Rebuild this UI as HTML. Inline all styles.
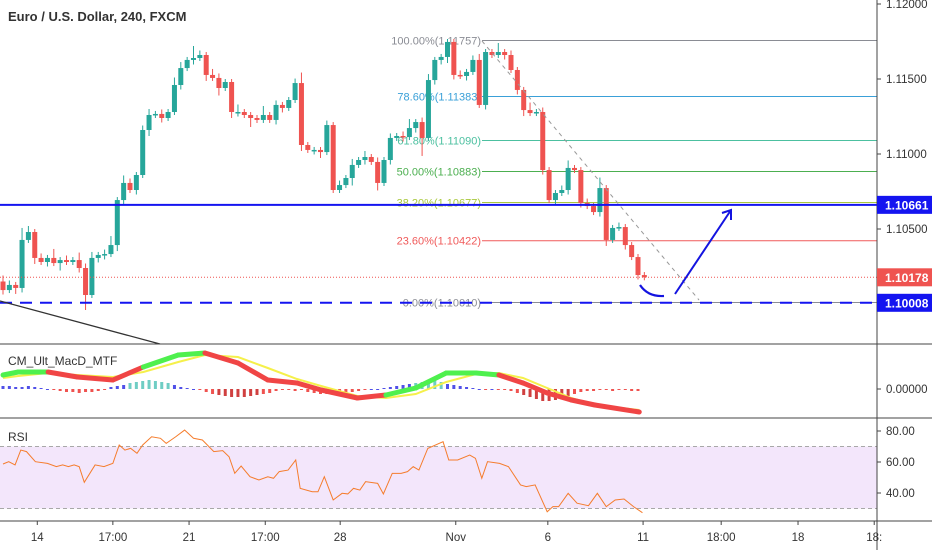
<!DOCTYPE html>
<html><head><meta charset="utf-8">
<style>
html,body{margin:0;padding:0;background:#fff;}
svg{display:block;font-family:"Liberation Sans",sans-serif;}
</style></head>
<body>
<svg id="chart" width="932" height="550" viewBox="0 0 932 550" xmlns="http://www.w3.org/2000/svg">
  <rect x="0" y="0" width="932" height="550" fill="#ffffff"/>
  <g id="rsiBand"></g>
  <g id="fib"></g>
  <g id="candles"></g>
  <g id="macd"></g>
  <g id="rsi"></g>
  <g id="overlay"></g>
  <g id="axes"></g>
  <text x="8" y="21" font-size="13" fill="#333" font-weight="600">Euro / U.S. Dollar, 240, FXCM</text>
  <text x="8" y="365" font-size="12" fill="#333">CM_Ult_MacD_MTF</text>
  <text x="8" y="441" font-size="12" fill="#333">RSI</text>
</svg>
<script>
const closes = [1.10093,1.10127,1.10107,1.10427,1.10480,1.10307,1.10280,1.10307,1.10273,1.10293,
1.10280,1.10293,1.10240,1.10060,1.10307,1.10327,1.10333,1.10393,1.10693,1.10807,
1.10760,1.10860,1.11160,1.11260,1.11267,1.11240,1.11280,1.11460,1.11573,1.11627,
1.11640,1.11660,1.11527,1.11507,1.11440,1.11480,1.11280,1.11280,1.11260,1.11240,
1.11227,1.11260,1.11227,1.11327,1.11307,1.11360,1.11473,1.11060,1.11027,1.11027,
1.11013,1.11193,1.10760,1.10793,1.10840,1.10927,1.10960,1.10980,1.10947,1.10807,
1.10960,1.11107,1.11120,1.11113,1.11173,1.11213,1.11107,1.11493,1.11627,1.11647,
1.11747,1.11527,1.11520,1.11547,1.11627,1.11327,1.11680,1.11660,1.11680,1.11660,
1.11560,1.11427,1.11293,1.11273,1.11280,1.10893,1.10693,1.10740,1.10760,1.10907,
1.10893,1.10673,1.10653,1.10613,1.10773,1.10427,1.10507,1.10513,1.10393,1.10313,
1.10193,1.10178];
const firstOpen = 1.10150;
const wickUp = [4,3,2,8,4,2,3,2,6,2,3,2,5,3,4,2,3,6,2,5,3,2,3,4,2,3,2,5,4,2,
8,3,2,4,3,2,2,5,2,2,2,6,2,3,2,2,3,7,2,2,2,3,2,3,2,4,2,4,2,3,
2,3,2,3,6,2,3,4,2,2,2,2,3,2,3,4,2,2,6,2,3,2,2,5,2,3,2,2,3,5,
2,2,3,2,7,2,2,3,2,2,2,2];
const wickDn = [3,2,4,3,2,4,2,3,2,5,2,2,3,10,2,3,3,2,4,3,2,3,2,4,2,3,2,2,3,2,
3,2,4,2,5,2,4,3,2,6,2,2,2,3,3,2,2,4,2,3,4,2,2,2,2,5,2,3,2,5,
2,3,2,3,2,3,12,2,3,3,4,3,2,3,2,2,3,2,2,3,2,3,4,2,2,3,2,3,2,3,
2,3,2,2,3,4,2,2,3,2,3,2];
const fibLevels = ["100.00%","78.60%","61.80%","50.00%","38.20%","23.60%","0.00%"];
const fibPrices = [1.11757,1.11383,1.11090,1.10883,1.10677,1.10422,1.10010];
const fibColors = ["#8a8c94","#3aa0d8","#4cc0a0","#4caf50","#a8c83c","#f05a5a","#8a8c94"];
const priceTicks = [1.12000,1.11500,1.11000,1.10500];
const macdIdx = [0,2.4,7.1,11.7,17.3,22.1,27.6,31.8,37,41.7,46.3,50.1,55.8,60.3,65,69.8,74.5,78.1,81.9,85.7,89.5,93.2,100.2];
const macdVals = [.0014,.0017,.0017,.0012,.0009,.0022,.0034,.0036,.0026,.0009,.0006,-.0001,-.0009,-.0006,.0001,.0016,.0016,.0014,.0006,-.0004,-.0011,-.0016,-.0023];
const signalVals = [.0011,.0013,.0016,.0014,.0012,.0017,.0027,.0034,.0032,.0021,.0010,.0003,-.0007,-.0009,-.0005,.0007,.0015,.0016,.0011,.0001,-.0009,-.0016,-.0021];
const histVals = [3,3,2,2,3,2,1,0,-1,-2,-3,-3,-4,-3,-3,-2,-1,2,3,4,6,7,8,9,8,7,6,4,2,1,0,-1,
-3,-5,-6,-7,-8,-8,-8,-7,-6,-5,-4,-2,-1,-1,-2,-1,-3,-4,-5,-5,-6,-5,-4,-3,-2,-1,0,0,1,2,
3,4,5,6,7,8,9,7,5,4,3,2,1,0,-1,0,-1,-1,-2,-4,-6,-8,-10,-12,-12,-11,-9,-7,-5,-3,-2,-2,
-1,-1,-2,-1,-1,-2,-2];
const rsiIdx = [0,0.9,1.9,2.8,3.7,5.1,7.0,8.4,9.4,10.3,11.2,12.0,12.8,14.5,15.9,17.3,18.3,19.2,20.1,21.1,22.0,23.4,24.8,25.7,27.2,28.6,30.0,31.4,33.2,34.6,35.6,36.5,37.5,38.9,40.3,41.7,42.6,43.5,44.9,46.1,46.8,48.7,49.6,50.6,52.0,53.4,54.3,55.2,56.2,57.1,59.0,59.9,61.3,62.7,63.7,64.6,65.5,66.9,69.3,70.2,71.6,73.5,74.4,75.4,76.3,78.2,79.6,81.5,82.4,83.8,85.7,86.6,87.5,89.0,90.4,92.2,93.6,95.0,96.4,97.8,99.3,100.7];
const rsiVals = [58.7,60.2,58.1,67.7,66.7,60.2,59.1,57.0,58.1,57.0,58.1,57.0,46.9,58.1,57.0,59.1,71.0,67.7,68.8,65.6,71.0,76.3,75.3,72.0,76.3,80.6,75.3,74.2,66.7,67.3,63.4,52.7,57.4,50.5,48.4,50.5,49.5,53.8,54.8,61.3,43.0,40.8,40.8,50.5,35.5,39.8,39.4,43.0,41.9,47.3,46.2,39.4,52.7,52.7,53.8,57.0,54.8,68.8,73.1,61.3,61.3,64.5,62.4,49.5,60.2,59.1,57.0,45.2,44.1,45.2,27.9,31.2,31.2,39.8,33.4,31.8,39.8,31.2,35.5,36.1,31.2,27.3];
const rsiTicks = [80,60,40];
const timeLabels = ["14","17:00","21","17:00","28","Nov","6","11","18:00","18","18:"];
const timeIdx = [5.4,17.3,29.3,41.3,53.1,71.3,85.8,100.8,113.1,125.2,137.2];
const markPrices = [1.10661,1.10178,1.10008];

const NS="http://www.w3.org/2000/svg";
const AX=877;
const xOf=i=>3+6.35*i;
const yP=p=>79-(p-1.115)*15000;
const yM=v=>389-v*10000;
const yR=v=>431-(v-80)*1.55;
function mk(tag,attrs,parent){const e=document.createElementNS(NS,tag);for(const k in attrs)e.setAttribute(k,attrs[k]);parent.appendChild(e);return e;}
const G=id=>document.getElementById(id);

const band=mk('rect',{x:0,y:yR(70),width:AX,height:yR(30)-yR(70),fill:'#f3e6fb'},G('rsiBand'));


[70,30].forEach(v=>{const l=mk('line',{x1:0,x2:AX,y1:yR(v),y2:yR(v),stroke:'#a8a8a8','stroke-dasharray':'4,3'},G('rsiBand'));

});

fibPrices.forEach((p,k)=>{const y=yP(p);
 const l=mk('line',{x1:482,x2:AX,y1:y,y2:y,stroke:fibColors[k],'stroke-width':1},G('fib'));
 
 
 const t=mk('text',{x:481,y:y+4,'text-anchor':'end','font-size':11,fill:fibColors[k]},G('fib'));
 t.textContent=fibLevels[k]+'('+p.toFixed(5)+')';
 
 
});

let prev=firstOpen;
closes.forEach((c,i)=>{const o=prev;prev=c;const up=c>=o;const col=up?'#26a69a':'#ef5350';
 const hi=Math.max(o,c)+wickUp[i]*0.0001, lo=Math.min(o,c)-wickDn[i]*0.0001;const x=xOf(i);
 const g=mk('g',{},G('candles'));
 
 
 mk('line',{x1:x,x2:x,y1:yP(hi),y2:yP(lo),stroke:col,'stroke-width':1},g);
 const top=yP(Math.max(o,c)),bot=yP(Math.min(o,c));
 mk('rect',{x:x-2.5,y:top,width:5,height:Math.max(1.5,bot-top),fill:col},g);
});

const ov=G('overlay');
let e=mk('line',{x1:0,x2:AX,y1:yP(markPrices[0]),y2:yP(markPrices[0]),stroke:'#1414f0','stroke-width':2},ov);


e=mk('line',{x1:0,x2:AX,y1:yP(markPrices[1]),y2:yP(markPrices[1]),stroke:'#ef5350','stroke-width':1,'stroke-dasharray':'1,2'},ov);


e=mk('line',{x1:0,x2:AX,y1:yP(markPrices[2]),y2:yP(markPrices[2]),stroke:'#1414f0','stroke-width':2,'stroke-dasharray':'12,8'},ov);


e=mk('line',{x1:0,y1:301,x2:160,y2:344,stroke:'#333','stroke-width':1.3},ov);


e=mk('line',{x1:482,y1:41,x2:699,y2:300,stroke:'#999','stroke-width':1,'stroke-dasharray':'4,4'},ov);


e=mk('path',{d:'M640,285 Q648,297 664,296',fill:'none',stroke:'#1414e0','stroke-width':2.2},ov);


e=mk('path',{d:'M675,294 L731,210 M722,213 L731,210 L731,220',fill:'none',stroke:'#1414e0','stroke-width':2},ov);



const mg=G('macd');
histVals.forEach((h,i)=>{const x=xOf(i);const y0=389,y1=389-h;
 const col=h>=0?(h>5?'#6fcdc4':'#5050e8'):(h<-5?'#d04040':'#ef5350');
 const r=mk('rect',{x:x-1.5,y:Math.min(y0,y1),width:3,height:Math.max(1,Math.abs(h)),fill:col},mg);
 
 });
const sig=mk('polyline',{points:macdIdx.map((t,k)=>xOf(t)+','+yM(signalVals[k])).join(' '),fill:'none',stroke:'#f5f04a','stroke-width':2},mg);


for(let k=0;k<macdIdx.length-1;k++){const rising=macdVals[k]>=signalVals[k]&&macdVals[k+1]>=signalVals[k+1]-0.0002&&macdVals[k+1]>=macdVals[k]-0.0003;
 const s=mk('line',{x1:xOf(macdIdx[k]),y1:yM(macdVals[k]),x2:xOf(macdIdx[k+1]),y2:yM(macdVals[k+1]),stroke:rising?'#4ef04e':'#f04545','stroke-width':5,'stroke-linecap':'round'},mg);
 
 }

const rl=mk('polyline',{points:rsiIdx.map((t,k)=>xOf(t)+','+yR(rsiVals[k])).join(' '),fill:'none',stroke:'#f57c2c','stroke-width':1},G('rsi'));



const ag=G('axes');
[[0,932,344],[0,932,418],[0,932,521]].forEach(s=>{const l=mk('line',{x1:s[0],x2:s[1],y1:s[2],y2:s[2],stroke:'#444','stroke-width':1},ag);
 
 });
e=mk('line',{x1:AX,x2:AX,y1:0,y2:550,stroke:'#444','stroke-width':1},ag);


function yLabel(y,txt,name){mk('line',{x1:AX,x2:AX+4,y1:y,y2:y,stroke:'#444'},ag);
 const t=mk('text',{x:886,y:y+4,'font-size':11.5,fill:'#333'},ag);t.textContent=txt;
 
 }
priceTicks.forEach(p=>yLabel(yP(p),p.toFixed(5),'price-tick-label'));
yLabel(389,'0.00000','macd-tick-label');
rsiTicks.forEach(v=>yLabel(yR(v),v.toFixed(2),'rsi-tick-label'));
const boxCols=['#1414f0','#ef5350','#1414f0'];
markPrices.forEach((p,k)=>{const y=yP(p);
 const r=mk('rect',{x:AX,y:y-9,width:55,height:18,fill:boxCols[k]},ag);
 
 
 const t=mk('text',{x:885,y:y+4.5,'font-size':12,'font-weight':'bold',fill:'#fff'},ag);t.textContent=p.toFixed(5);
 
 });
timeLabels.forEach((s,k)=>{const x=xOf(timeIdx[k]);mk('line',{x1:x,x2:x,y1:521,y2:525,stroke:'#444'},ag);
 const t=mk('text',{x:x,y:541,'font-size':11.5,fill:'#333','text-anchor':'middle'},ag);t.textContent=s;
 
 });
</script>
</body></html>
